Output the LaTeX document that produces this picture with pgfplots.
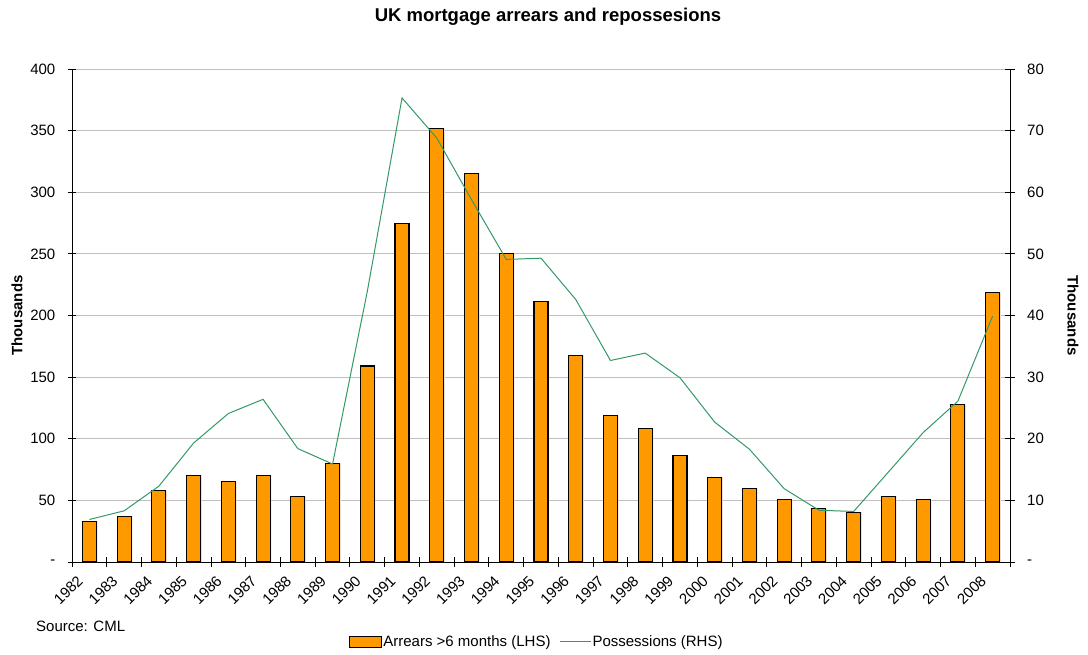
\documentclass[border=0pt]{standalone}
\usepackage{pgfplots}
\pgfplotsset{compat=1.18}
\usepackage{fontspec}
\setmainfont{Liberation Sans}
\newcommand\fs{\fontsize{15}{18}\selectfont}
\definecolor{barorange}{RGB}{255,153,0}
\definecolor{possgreen}{RGB}{51,153,102}
\begin{document}
\begin{tikzpicture}[font=\fs]
\path[use as bounding box] (0,0) rectangle (1088pt,654pt);
\node[font=\fontsize{18.5}{22}\selectfont\bfseries] at (548pt,637pt) {UK mortgage arrears and repossesions};
\node[anchor=west,font=\fs,inner sep=0pt] at (36pt,28pt) {Source: CML};
\begin{axis}[
  at={(72pt,92pt)}, anchor=south west,
  scale only axis, width=938pt, height=493pt,
  xmin=1981.5, xmax=2008.5, ymin=0, ymax=400,
  axis y line*=left, axis x line*=bottom,
  axis line style={black, line width=0.9pt},
  xtick={1982,...,2008}, major x tick style={draw=none},
  minor xtick={1981.5,1982.5,...,2008.5},
  minor x tick style={black, line width=0.9pt},
  minor tick length=10pt,
  x tick label style={/pgf/number format/1000 sep={}, font=\fs, inner sep=0pt, xshift=-13pt, yshift=-8pt, rotate=45, anchor=north east},
  ytick={0,50,...,400}, yticklabels={-,50,100,150,200,250,300,350,400},
  y tick label style={font=\fs, inner sep=0pt, anchor=east, xshift=-12pt},
  /pgf/number format/assume math mode=true,
  ymajorgrids, major grid style={gray!50, line width=0.8pt},
  y tick style={black, line width=0.9pt}, major tick length=9pt,
  tick align=center,
  every axis y label/.style={at={(axis description cs:-0.0586,0.5)}, rotate=90, anchor=center, font=\fs\bfseries},
  ylabel={Thousands},
  clip=true,
]
\addplot[ybar, bar width=14pt, bar shift=1.2pt, fill=black!12, draw=none] coordinates {
(1982,33.0) (1983,37.0) (1984,57.8) (1985,70.2) (1986,65.1) (1987,70.2) (1988,53.2) (1989,80.0)
(1990,159.0) (1991,274.5) (1992,351.4) (1993,315.5) (1994,250.4) (1995,211.5) (1996,167.7)
(1997,119.0) (1998,108.6) (1999,86.2) (2000,68.6) (2001,59.7) (2002,50.5) (2003,43.2)
(2004,40.5) (2005,53.5) (2006,50.5) (2007,127.5) (2008,218.5)};
\addplot[ybar, bar width=14pt, fill=barorange, draw=black, line width=1.1pt] coordinates {
(1982,33.0) (1983,37.0) (1984,57.8) (1985,70.2) (1986,65.1) (1987,70.2) (1988,53.2) (1989,80.0)
(1990,159.0) (1991,274.5) (1992,351.4) (1993,315.5) (1994,250.4) (1995,211.5) (1996,167.7)
(1997,119.0) (1998,108.6) (1999,86.2) (2000,68.6) (2001,59.7) (2002,50.5) (2003,43.2)
(2004,40.5) (2005,53.5) (2006,50.5) (2007,127.5) (2008,218.5)};
\end{axis}
\begin{axis}[
  at={(72pt,92pt)}, anchor=south west,
  scale only axis, width=938pt, height=493pt,
  xmin=1981.5, xmax=2008.5, ymin=0, ymax=80,
  axis y line*=right, axis x line=none,
  axis line style={black, line width=0.9pt},
  ytick={0,10,...,80}, yticklabels={-,10,20,30,40,50,60,70,80},
  y tick label style={font=\fs, inner sep=0pt, anchor=west, xshift=12pt},
  /pgf/number format/assume math mode=true,
  y tick style={black, line width=0.9pt}, major tick length=10pt, tick align=center,
  every axis y label/.style={at={(axis description cs:1.0672,0.5)}, rotate=-90, anchor=center, font=\fs\bfseries},
  ylabel={Thousands},
  legend style={at={(0.4952,-0.1617)}, anchor=center, draw=none, fill=none, font=\fs, legend columns=2,
    nodes={inner sep=1.5pt},
    /tikz/every even column/.append style={column sep=7pt}},
]
\addlegendimage{legend image code/.code={\draw[fill=barorange, draw=black, line width=1pt] (0pt,-5.5pt) rectangle (32pt,5.5pt);}}
\addlegendentry{Arrears >6 months (LHS)}
\addplot[possgreen, line width=1pt, mark=none,
  legend image code/.code={\draw[possgreen, line width=1pt] (0pt,0pt) -- (31pt,0pt);}] coordinates {
(1982,6.9) (1983,8.3) (1984,12.3) (1985,19.3) (1986,24.1) (1987,26.4) (1988,18.4) (1989,15.9)
(1990,43.9) (1991,75.3) (1992,68.8) (1993,58.8) (1994,49.1) (1995,49.3) (1996,42.6)
(1997,32.7) (1998,33.9) (1999,29.9) (2000,22.7) (2001,18.3) (2002,11.9) (2003,8.4)
(2004,8.2) (2005,14.6) (2006,21.0) (2007,26.1) (2008,39.9)};
\addlegendentry{Possessions (RHS)}
\end{axis}
\end{tikzpicture}
\end{document}
